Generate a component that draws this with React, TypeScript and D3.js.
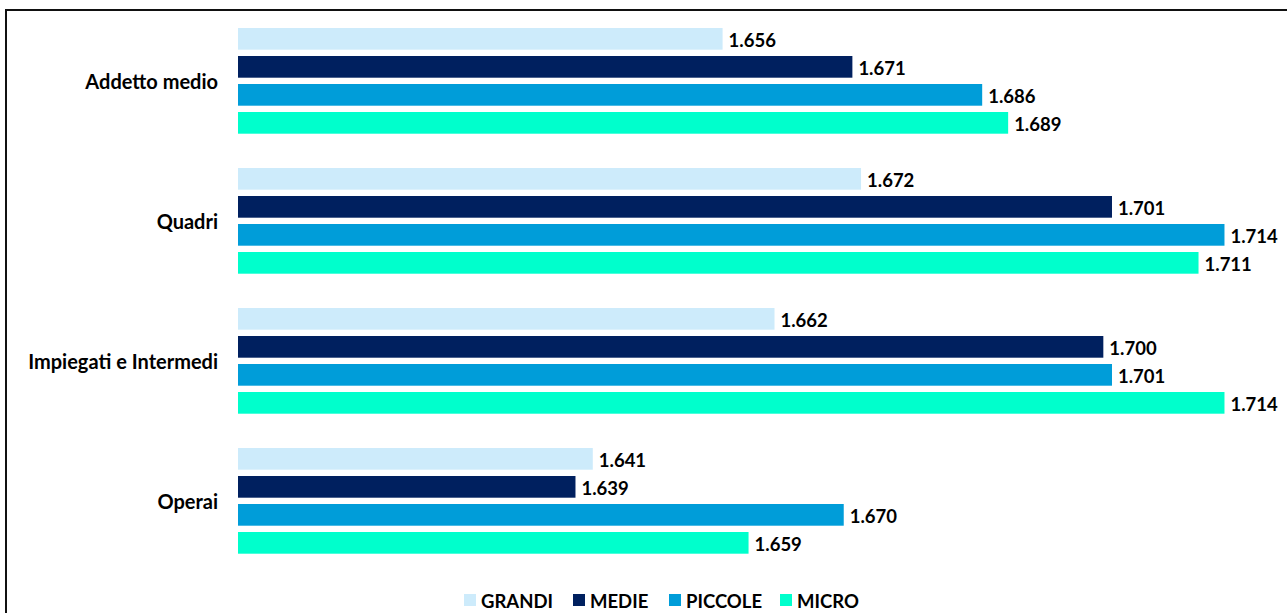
import React from "react";
import * as d3 from "d3";

const categories = ["Addetto medio", "Quadri", "Impiegati e Intermedi", "Operai"];
const seriesNames = ["GRANDI", "MEDIE", "PICCOLE", "MICRO"];
const grandi = [1.656, 1.672, 1.662, 1.641];
const medie = [1.671, 1.701, 1.7, 1.639];
const piccole = [1.686, 1.714, 1.701, 1.67];
const micro = [1.689, 1.711, 1.714, 1.659];
const colors = ["#CDEBFB", "#00205F", "#009DD9", "#00FFCC"];

const W = 1287;
const H = 613;
const FONT = "Lato, 'Open Sans', sans-serif";

export default function App() {
  const seriesValues = [grandi, medie, piccole, micro];
  const x = d3.scaleLinear().domain([1.6, 1.72]).range([238, 1276.4]);
  const y0 = d3
    .scaleBand<string>()
    .domain(categories)
    .range([28, 28 + 140 * (4 - 0.245)])
    .paddingInner(0.245)
    .paddingOuter(0);
  const y1 = d3
    .scaleBand<string>()
    .domain(seriesNames)
    .range([0, y0.bandwidth()])
    .paddingInner(0.225)
    .paddingOuter(0);
  const fmt = d3.format(".3f");

  const legendX = [464, 573, 669, 780];

  return (
    <svg
      width={W}
      height={H}
      style={{ position: "absolute", left: 0, top: 0, background: "#fff" }}
      fontFamily={FONT}
    >
      <rect x={6} y={10} width={W + 10} height={H + 10} fill="#fff" stroke="#111" strokeWidth={2} />
      {categories.map((cat, ci) => (
        <g key={cat} transform={`translate(0,${y0(cat)})`}>
          <text
            x={218}
            y={y0.bandwidth() / 2}
            textAnchor="end"
            dominantBaseline="central"
            fontSize={20}
            fontWeight="bold"
            fill="#000"
          >
            {cat}
          </text>
          {seriesNames.map((s, si) => {
            const v = seriesValues[si][ci];
            const yy = y1(s)!;
            return (
              <g key={s}>
                <rect
                  x={x(1.6)}
                  y={yy}
                  width={x(v) - x(1.6)}
                  height={y1.bandwidth()}
                  fill={colors[si]}
                />
                <text
                  x={x(v) + 6}
                  y={yy + y1.bandwidth() / 2 + 1}
                  dominantBaseline="central"
                  fontSize={18.5}
                  fontWeight="bold"
                  fill="#000"
                >
                  {fmt(v)}
                </text>
              </g>
            );
          })}
        </g>
      ))}
      {seriesNames.map((s, si) => (
        <g key={s} transform={`translate(${legendX[si]},594)`}>
          <rect x={0} y={0} width={12} height={12} fill={colors[si]} />
          <text x={17} y={6.5} dominantBaseline="central" fontSize={18.5} fontWeight="bold" fill="#000">
            {s}
          </text>
        </g>
      ))}
    </svg>
  );
}
